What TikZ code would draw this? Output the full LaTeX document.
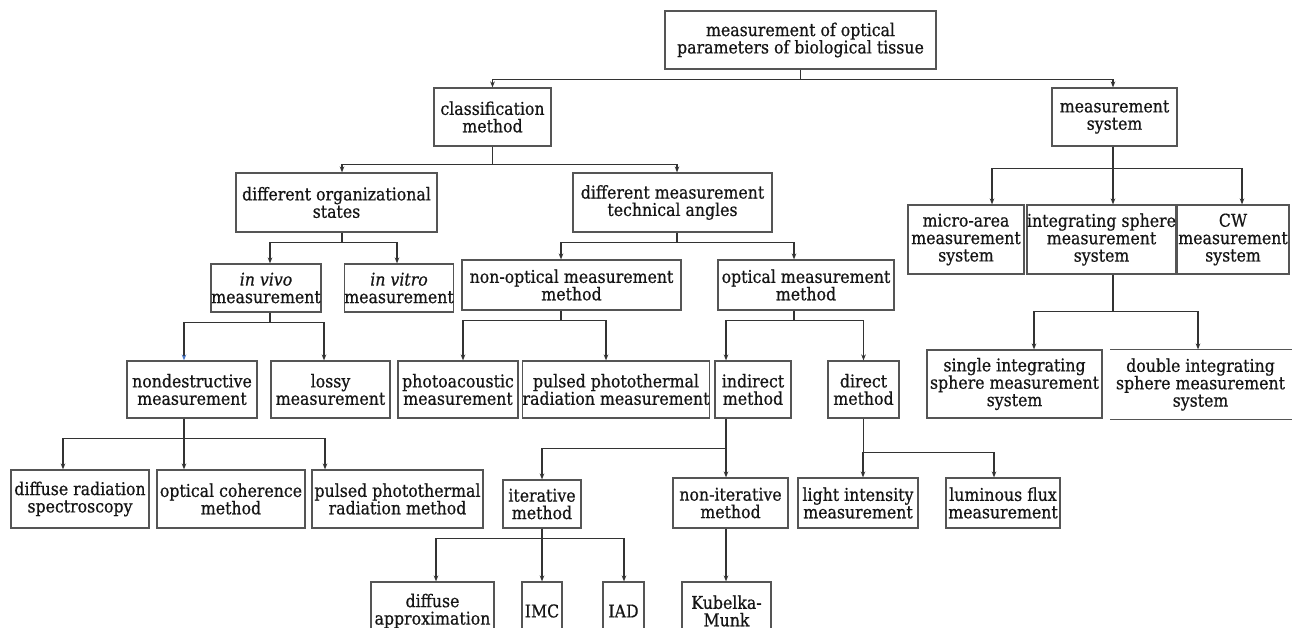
\documentclass[tikz,border=0pt]{standalone}
\usepackage{fontspec}
\setmainfont{DejaVu Serif}[FakeStretch=0.895,FakeBold=0.6]
\usetikzlibrary{arrows.meta}
\definecolor{boxgray}{HTML}{555555}
\definecolor{linegray}{HTML}{333333}
\definecolor{txt}{HTML}{151515}
\definecolor{tipblue}{HTML}{4A78C8}
\tikzset{
  bx/.style={draw=boxgray, line width=1.2pt, fill=white, align=center, inner sep=0pt, text=txt,
    font=\fontsize{17.6}{17.4}\selectfont},
  arr/.style={draw=linegray, line width=1.2pt, -{Stealth[length=6pt,width=4.6pt]}},
  edge/.style={draw=boxgray, line width=1.2pt}
}
\newcommand\bx[6]{\node[bx, minimum width={#4-#2}, minimum height={#5-#3}] (#1) at ({(#2+#4)/2},{(#3+#5)/2}) {#6};}
% parent, parent xshift, drop, child, child xshift
\newcommand\tlink[5]{\draw[arr] ([xshift=#2pt]#1.south) -- ++(0,#3) -| ([xshift=#5pt]#4.north);}
\begin{document}
\begin{tikzpicture}[x=1pt,y=-1pt]
\useasboundingbox (0,0) rectangle (1292,628);
\clip (0,0) rectangle (1292,628);
\fill[white] (0,0) rectangle (1292,628);

\bx{top}{665}{11}{936}{69}{measurement of optical\\parameters of biological tissue}
\bx{cls}{434}{88}{551}{146}{classification\\method}
\bx{msys}{1052}{88}{1177}{146}{measurement\\system}
\bx{dos}{236}{173}{437}{232}{different organizational\\states}
\bx{dmt}{573}{173}{772}{232}{different measurement\\technical angles}
\bx{invivo}{211}{264}{321}{312}{\textit{in vivo}\\measurement}
\bx{invitro}{346}{264}{452}{312}{\textit{in vitro}\\measurement}
\bx{nonopt}{462}{260}{681}{310}{non-optical measurement\\method}
\bx{opt}{718}{260}{894}{310}{optical measurement\\method}
\bx{micro}{908}{205}{1024}{274}{micro-area\\measurement\\system}
\bx{integ}{1030}{205}{1173}{274}{integrating sphere\\measurement\\system}
\bx{cw}{1177}{205}{1289}{274}{CW\\measurement\\system}
\bx{nondes}{127}{361}{257}{418}{nondestructive\\measurement}
\bx{lossy}{271}{361}{390}{418}{lossy\\measurement}
\bx{photo}{398}{361}{518}{418}{photoacoustic\\measurement}
\bx{pptm}{523}{361}{709}{418}{pulsed photothermal\\radiation measurement}
\bx{indirect}{715}{361}{791}{418}{indirect\\method}
\bx{direct}{828}{361}{899}{418}{direct\\method}
\bx{single}{927}{350}{1102}{418}{single integrating\\sphere measurement\\system}
\node[bx, draw=none, minimum width=179, minimum height=69] (double) at (1200.5,384.5) {double integrating\\sphere measurement\\system};
\draw[edge] (double.north west) -- ([xshift=4pt]double.north east);
\draw[edge] (double.south west) -- ([xshift=4pt]double.south east);
\bx{drs}{11}{470}{149}{528}{diffuse radiation\\spectroscopy}
\bx{ocm}{157}{470}{305}{528}{optical coherence\\method}
\bx{pptrm}{312}{470}{483}{528}{pulsed photothermal\\radiation method}
\bx{iter}{503}{480}{581}{528}{iterative\\method}
\bx{noniter}{673}{478}{788}{528}{non-iterative\\method}
\bx{light}{798}{478}{918}{528}{light intensity\\measurement}
\bx{lumin}{946}{478}{1060}{528}{luminous flux\\measurement}
\bx{da}{371}{582}{494}{640}{diffuse\\approximation}
\bx{imc}{522}{582}{562}{640}{IMC}
\bx{iad}{603}{582}{644}{640}{IAD}
\bx{km}{682}{582}{771}{640}{Kubelka-\\Munk}

\tlink{top}{0}{10}{cls}{0}
\tlink{top}{0}{10}{msys}{-1.5}
\tlink{cls}{0}{18}{dos}{5.5}
\tlink{cls}{0}{18}{dmt}{4.5}
\tlink{dos}{5.5}{10}{invivo}{4}
\tlink{dos}{5.5}{10}{invitro}{-2}
\draw[draw=linegray, line width=1.2pt, -{Stealth[length=6pt,width=4.6pt,color=tipblue]}] ([xshift=4pt]invivo.south) -- ++(0,10) -| ([xshift=-8pt]nondes.north);
\tlink{invivo}{4}{10}{lossy}{-6.5}
\tlink{nondes}{-8}{20}{drs}{-17}
\tlink{nondes}{-8}{20}{ocm}{-47}
\tlink{nondes}{-8}{20}{pptrm}{-72.5}
\tlink{dmt}{4.5}{10}{nonopt}{-10.5}
\tlink{dmt}{4.5}{10}{opt}{-12}
\tlink{nonopt}{-10.5}{10}{photo}{5}
\tlink{nonopt}{-10.5}{10}{pptm}{-10}
\tlink{opt}{-12}{10}{indirect}{-27}
\tlink{opt}{-12}{10}{direct}{0}
\tlink{indirect}{-27}{30}{iter}{0}
\tlink{indirect}{-27}{30}{noniter}{-4.5}
\tlink{iter}{0}{10}{da}{3.5}
\tlink{iter}{0}{10}{imc}{0}
\tlink{iter}{0}{10}{iad}{0.5}
\draw[arr] ([xshift=-4.5pt]noniter.south) -- ([xshift=-0.5pt]km.north);
\tlink{direct}{0}{34}{light}{5}
\tlink{direct}{0}{34}{lumin}{-9}
\tlink{msys}{-1.5}{22}{micro}{26}
\tlink{msys}{-1.5}{22}{integ}{11.5}
\tlink{msys}{-1.5}{22}{cw}{9}
\tlink{integ}{11.5}{37}{single}{19.5}
\tlink{integ}{11.5}{37}{double}{-2.5}
\end{tikzpicture}
\end{document}
